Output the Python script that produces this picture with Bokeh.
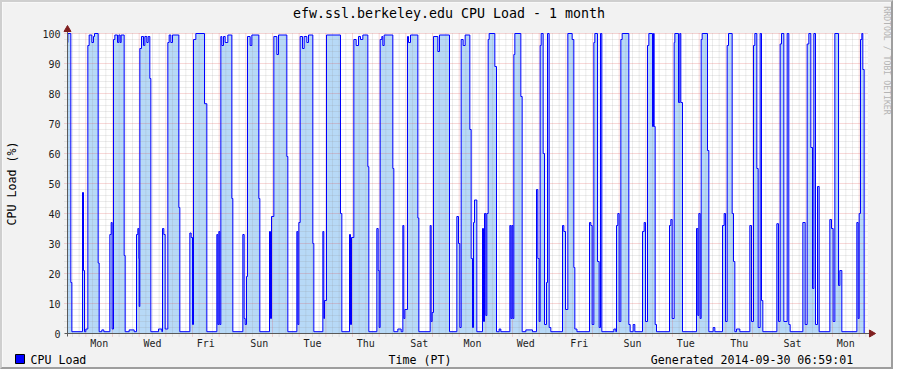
import math
from bokeh.plotting import figure
from bokeh.models import Range1d
from bokeh.core.properties import value
from bokeh.embed import file_html
from bokeh.resources import INLINE

FONT = "DejaVu Sans Mono"

# ---- data: hours since Mon 2014-09-01 00:00 (PT); each load value holds until the next time ----
t_hours = [
    -16.5, -16.2, -13.5, -12.6, -3.0, -2.1, -1.2, 0.0, 1.8, 3.0, 5.4, 6.9, 7.8, 11.1, 12.0, 14.4, 16.2,
    21.6, 22.8, 23.7, 24.9, 26.1, 28.5, 29.7, 30.9, 31.8, 34.5, 35.4, 39.0, 43.5,
    45.6, 46.8, 47.7, 48.0, 48.6, 50.1, 51.9, 53.1, 54.9, 56.1, 57.6, 58.5, 65.4, 68.4,
    69.0, 70.2, 71.4, 73.8, 75.0, 76.5, 78.0, 83.7, 84.6,
    93.6, 94.8, 96.0, 96.9, 99.0, 106.8, 108.9,
    117.9, 118.8, 119.7, 120.6, 121.5, 122.4, 123.9, 125.4, 127.8, 131.4, 132.3,
    141.3, 142.5, 143.4, 144.6, 145.5, 147.9, 149.4, 155.7, 156.6,
    165.3, 166.2, 167.1, 169.2, 171.9, 173.4, 180.9, 181.8,
    189.9, 190.8, 191.7, 192.9, 195.0, 196.5, 198.9, 200.4, 204.3, 205.2,
    213.3, 214.2, 214.8, 216.6, 229.2, 230.4,
    237.3, 238.2, 239.1, 241.2, 243.3, 245.4, 247.2, 249.3, 253.8, 254.7,
    261.9, 263.1, 264.0, 264.9, 266.4, 267.3, 268.5, 276.3, 277.2, 280.8, 283.8,
    285.3, 286.2, 287.1, 289.5, 290.4, 292.2, 298.8, 299.7,
    309.9, 310.8, 311.7, 312.9, 316.8, 318.3, 327.3,
    333.9, 335.4, 336.6, 337.8, 339.6, 341.4,
    345.6, 346.8, 348.0, 348.9, 349.8, 351.9,
    357.0, 357.9, 358.8, 360.0, 360.9, 362.1, 363.0, 368.1, 369.6, 372.0, 373.5,
    381.6, 382.5, 383.4, 384.3, 385.2, 386.1, 391.5, 392.7, 396.0, 402.0,
    405.6, 406.8, 408.0, 408.9, 409.8, 411.6, 412.8, 414.6, 415.5, 417.0, 418.5,
    429.0, 430.2, 431.7, 433.8, 437.7, 439.2, 440.1, 442.0,
    453.3, 454.5, 455.7, 457.2, 458.1, 460.5, 462.0, 463.2, 464.4,
    475.2, 477.0, 477.6, 478.8, 480.0, 481.5, 482.7, 488.7, 489.9, 492.6, 494.1,
    501.0, 502.5, 503.7, 505.5, 506.7, 510.0, 510.9, 511.5, 512.4, 513.6,
    525.3, 526.5, 527.7, 529.5, 530.1, 533.4, 534.6, 535.5, 537.0,
    549.6, 550.8, 551.7, 552.9, 553.8, 554.7, 559.5, 560.7, 564.6, 566.1,
    573.0, 574.5, 575.7, 577.2, 578.4, 581.7, 582.9, 584.1, 585.6, 588.6,
    597.6, 599.1, 600.9, 602.1, 603.9, 605.1, 606.9, 608.1, 609.3,
    621.9, 623.4, 624.9, 626.1, 628.2, 631.2, 632.7, 633.9,
    645.3, 647.4, 649.2, 650.7, 652.5, 654.0, 655.2, 656.7, 658.5, 660.0,
    669.6, 671.1, 672.6, 674.1, 677.4, 678.6, 680.4,
    693.9, 695.1, 696.0, 697.2, 698.4, 699.3, 700.5,
]
load = [
    97, 100, 17, 0.6, 47, 21, 0.6, 1.5, 96, 99.5, 97, 99, 100, 23.5, 0.6, 1.2, 0.6,
    33, 37, 1.5, 98, 99.5, 97, 99.5, 97, 99.5, 26, 0.6, 1.2, 0.6,
    33, 35, 25, 9, 95, 99, 96, 99, 97, 99, 85, 0.6, 1.5, 0.6,
    35, 33, 1.5, 97, 99.5, 97, 99.5, 42, 0.6,
    33.5, 32, 3, 98, 100, 76.6, 0.6,
    33, 3, 34, 3, 99, 96, 99, 97, 99.5, 45, 0.6,
    33, 5, 3, 19, 99, 96, 99.5, 45, 0.6,
    34, 5, 39, 99, 93, 99.5, 59, 0.6,
    34, 3, 37, 99, 95, 99, 97, 99.5, 30, 0.6,
    34, 5, 11, 99.5, 40, 0.6,
    33, 3, 32, 98, 96, 99, 98, 99.5, 55.6, 0.6,
    35, 21, 2, 98, 99, 96, 99.5, 55, 0.6, 1.5, 0.6,
    36, 5, 8, 99, 97, 99.5, 38.5, 0.6,
    36, 4, 7, 99, 94, 99.5, 0.6,
    39, 30, 2, 98, 96, 99.5,
    68, 25, 2, 37, 44.5, 0.6,
    35, 4, 40, 6, 40, 98, 100, 89, 0.6, 1.5, 0.6,
    36, 5, 36, 5, 93, 100, 79, 0.6, 1.2, 0.6,
    48, 25, 4, 96, 100, 60, 3, 17, 100, 2, 0.6,
    36, 34, 8, 100, 98, 22, 1.5, 0.6,
    37, 36, 3, 97, 100, 24, 2, 100, 0.6,
    1.5, 0.6, 36, 40, 4, 98, 100, 3, 0.6, 3, 0.6,
    34, 37, 4, 96, 100, 69, 100, 69, 3, 0.6,
    36, 38, 5, 97, 100, 77, 100, 77, 0.6,
    35, 6, 40, 5, 98, 100, 61, 0.6, 2, 0.6,
    36, 40, 4, 96, 100, 40, 24, 0.6, 1.5, 0.6,
    36, 4, 96, 100, 55, 2, 100, 11, 0.6,
    36.6, 4, 96.5, 100, 4, 100, 3, 0.6,
    37, 3, 96.5, 100, 62, 15, 100, 3, 49, 0.6,
    38, 35, 4, 100, 16, 21, 0.6,
    37, 5, 40, 98, 100, 88, 0,
]

x_start, x_end = -16.5, 703.5          # 1 month window (hours)
day_names = ["Mon", "Wed", "Fri", "Sun", "Tue", "Thu", "Sat",
             "Mon", "Wed", "Fri", "Sun", "Tue", "Thu", "Sat", "Mon"]
label_hours = [12 + 48 * i for i in range(len(day_names))]
y_major = list(range(0, 101, 10))
y_minor = [v for v in range(2, 100, 2) if v % 10]
x_major = [h for h in range(0, 703, 24)]
x_minor = [h for h in range(-12, 703, 6) if h % 24]

title_text = "efw.ssl.berkeley.edu CPU Load - 1 month"
y_label = "CPU Load (%)"
legend_text = "CPU Load"
x_label = "Time (PT)"
generated = "Generated 2014-09-30 06:59:01"
watermark = "RRDTOOL / TOBI OETIKER"

BG = "#F2F2F2"
PXH = 0.9    # hours per pixel
PXV = 1 / 3  # load units per pixel

# whole canvas is the plot frame; page px (2..895, 2..371) inside a 2px border
p = figure(width=893, height=369, output_backend="svg", toolbar_location=None,
           x_range=Range1d(x_start - 65 * PXH, x_start + 828 * PXH),
           y_range=Range1d(-38 * PXV, 331 * PXV),
           x_axis_type=None, y_axis_type=None,
           min_border_left=0, min_border_right=0, min_border_top=0, min_border_bottom=0)
p.styles = {"border-top": "2px solid #CFCFCF", "border-left": "2px solid #CFCFCF",
            "border-bottom": "2px solid #9E9E9E", "border-right": "2px solid #9E9E9E"}
p.background_fill_color = BG
p.border_fill_color = BG
p.outline_line_color = None
p.grid.visible = False

# canvas
p.quad(left=[x_start], right=[x_end], bottom=[0], top=[100], fill_color="white", line_color=None)

# data area
p.varea_step(x=t_hours, y1=[0] * len(t_hours), y2=load, step_mode="after", fill_color="#B7D9F7")

# grid (drawn over the area, like rrdtool)
GRID_C, MGRID_C = "#8F8F8F", "#DE4F4F"
p.segment(x0=x_minor, y0=[-1] * len(x_minor), x1=x_minor, y1=[100] * len(x_minor),
          line_color=GRID_C, line_alpha=0.35, line_width=1, line_dash="1 1")
p.segment(x0=[x_start - 3 * PXH] * len(y_minor), y0=y_minor, x1=[x_end + PXH] * len(y_minor), y1=y_minor,
          line_color=GRID_C, line_alpha=0.35, line_width=1, line_dash="1 1")
p.segment(x0=x_major, y0=[-1] * len(x_major), x1=x_major, y1=[100] * len(x_major),
          line_color=MGRID_C, line_alpha=0.45, line_width=1, line_dash="1 1")
p.segment(x0=[x_start - 3 * PXH] * len(y_major[1:]), y0=y_major[1:], x1=[x_end + PXH] * len(y_major[1:]),
          y1=y_major[1:], line_color=MGRID_C, line_alpha=0.45, line_width=1, line_dash="1 1")

# data line
p.step(x=t_hours, y=load, mode="after", line_color="#0000FF", line_width=1)

# axis lines + arrows
AX_C, ARROW_C = "#5A5A5A", "#801F1F"
p.segment(x0=[x_start - 3 * PXH], y0=[0], x1=[x_end + 3 * PXH], y1=[0], line_color=AX_C, line_width=1)
p.segment(x0=[x_start], y0=[-1], x1=[x_start], y1=[100 + 4 * PXV], line_color=AX_C, line_width=1)
p.scatter(x=[x_start], y=[100 + 4 * PXV], marker="triangle", size=7, fill_color=ARROW_C, line_color=ARROW_C)
p.scatter(x=[x_end + 4 * PXH], y=[0], marker="triangle", angle=-math.pi / 2, size=7,
          fill_color=ARROW_C, line_color=ARROW_C)

# tick labels
p.text(x=[x_start - 7 * PXH] * len(y_major), y=y_major, text=[str(v) for v in y_major],
       text_font=value(FONT), text_font_size=value("10px"), text_align="right",
       text_baseline="middle", text_color="#1E1E1E")
p.text(x=label_hours, y=[-10 * PXV] * len(label_hours), text=day_names,
       text_font=value(FONT), text_font_size=value("10px"), text_align="center",
       text_baseline="middle", text_color="#1E1E1E")

def add_text(txt, px, py, size, align="center", angle=0.0, color="black"):
    """px/py: page pixel position of the text anchor."""
    p.text(x=[x_start + (px - 67) * PXH], y=[(333 - py) * PXV], text=[txt],
           text_font=value(FONT), text_font_size=value(size), text_align=align,
           text_baseline="middle", angle=angle, text_color=color)

add_text(title_text, 448.5, 13, "13.3px")
add_text(y_label, 11, 183, "11.6px", angle=math.pi / 2)
add_text(legend_text, 30, 359, "11.6px", align="left")
add_text(x_label, 419.5, 359, "11.6px")
add_text(generated, 852.7, 359, "11.6px", align="right")
add_text(watermark, 886.5, 60, "8.2px", angle=-math.pi / 2, color="#B4B4B4")

# legend swatch
p.quad(left=[x_start - 52 * PXH], right=[x_start - 43 * PXH], top=[-21 * PXV], bottom=[-30 * PXV],
       fill_color="#0000FF", line_color="black", line_width=1)

open("out.html", "w").write(file_html(p, INLINE))
